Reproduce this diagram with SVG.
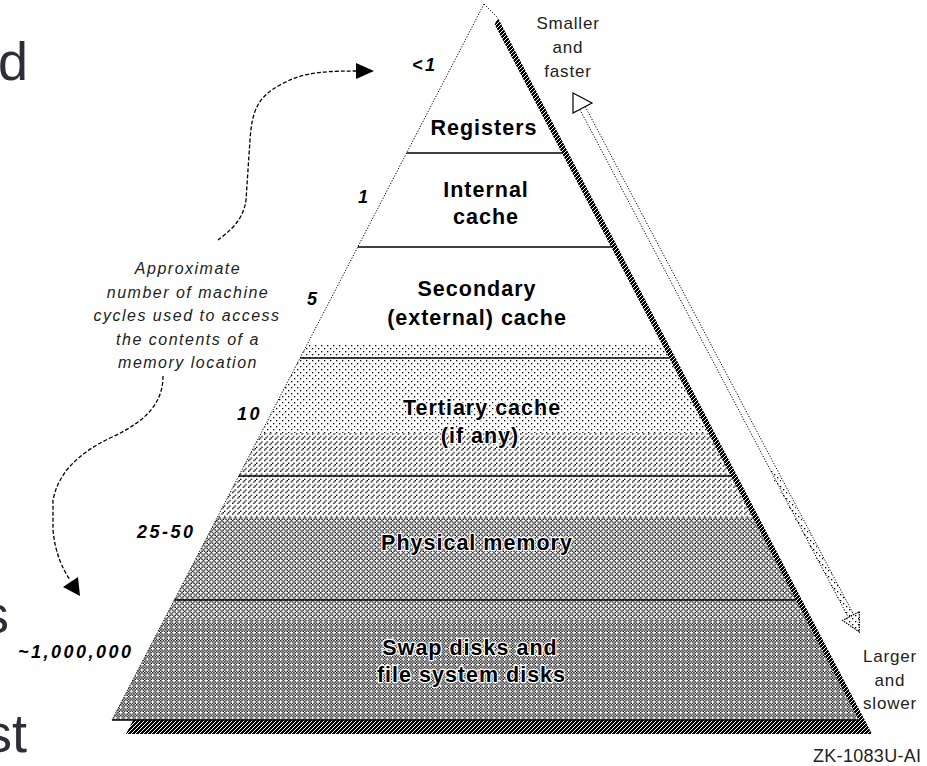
<svg xmlns="http://www.w3.org/2000/svg" width="927" height="766" viewBox="0 0 927 766">
<style>
.lbl{font-family:"Liberation Sans",Arial,sans-serif;font-weight:bold;font-size:21.5px;letter-spacing:1px;fill:#000;text-anchor:middle;stroke:#fff;stroke-width:2.4px;paint-order:stroke;stroke-linejoin:round}
.num{font-family:"Liberation Sans",Arial,sans-serif;font-weight:bold;font-style:italic;font-size:18px;letter-spacing:2.5px;fill:#000}
.note{font-family:"Liberation Sans",Arial,sans-serif;font-style:italic;font-size:16px;letter-spacing:1.5px;fill:#222;text-anchor:middle}
.side{font-family:"Liberation Sans",Arial,sans-serif;font-size:17px;letter-spacing:0.8px;fill:#222;text-anchor:middle}
.big{font-family:"Liberation Sans",Arial,sans-serif;font-size:54px;fill:#2e2e38;text-anchor:end}
.div{stroke:#000;stroke-width:1.5;fill:none}
.dotline{stroke:#000;stroke-width:1;fill:none;stroke-dasharray:1.2,1.6}
.curve{stroke:#000;stroke-width:1.3;fill:none;stroke-dasharray:4,2}
.px{fill:#000}
</style>
<defs>
<pattern id="pDots" width="6" height="6" patternUnits="userSpaceOnUse">
<rect x="0" y="0" width="1.3" height="1.3" fill="#000"/>
<rect x="3" y="3" width="1.3" height="1.3" fill="#000"/>
</pattern>
<pattern id="pDiag" width="4" height="4" patternUnits="userSpaceOnUse" patternTransform="scale(1.3333)">
<rect class="px" x="3" y="0" width="1" height="1"/>
<rect class="px" x="2" y="1" width="1" height="1"/>
<rect class="px" x="0" y="3" width="1" height="1"/>
</pattern>
<pattern id="pCross" width="4" height="4" patternUnits="userSpaceOnUse" patternTransform="scale(1.3333)">
<rect class="px" x="0" y="0" width="1" height="1"/>
<rect class="px" x="1" y="1" width="1" height="1"/>
<rect class="px" x="2" y="2" width="1" height="1"/>
<rect class="px" x="3" y="3" width="1" height="1"/>
<rect class="px" x="3" y="1" width="1" height="1"/>
<rect class="px" x="1" y="3" width="1" height="1"/>
</pattern>
<pattern id="pSwap" width="4" height="4" patternUnits="userSpaceOnUse" patternTransform="scale(1.3333)">
<rect class="px" x="0" y="0" width="1" height="1"/>
<rect class="px" x="2" y="0" width="1" height="1"/>
<rect class="px" x="1" y="1" width="1" height="1"/>
<rect class="px" x="3" y="1" width="1" height="1"/>
<rect class="px" x="0" y="2" width="1" height="1"/>
<rect class="px" x="1" y="3" width="1" height="1"/>
<rect class="px" x="3" y="3" width="1" height="1"/>
</pattern>
<pattern id="pShadow" width="4" height="4" patternUnits="userSpaceOnUse" shape-rendering="crispEdges">
<rect x="0" y="0" width="4" height="4" fill="#000"/>
<rect x="0" y="0" width="1" height="1" fill="#fff"/>
<rect x="2" y="2" width="1" height="1" fill="#fff"/>
<rect x="3" y="1" width="1" height="1" fill="#fff"/>
<rect x="1" y="3" width="1" height="1" fill="#fff"/>
</pattern>
<clipPath id="face">
<polygon points="484,4 112,720 858.5,720"/>
</clipPath>
</defs>
<rect x="0" y="0" width="927" height="766" fill="#fff"/>

<g id="slide-text">
<text class="big" x="28" y="80">d</text>
<text class="big" x="9" y="633">s</text>
<text class="big" x="27" y="752">st</text>
</g>

<g id="pyramid">
<polygon points="498,18 126,734 872,734" fill="url(#pShadow)"/>
<polygon points="484,4 112,720 858.5,720" fill="#fff"/>
<g clip-path="url(#face)">
<rect x="100" y="345" width="780" height="88" fill="url(#pDots)"/>
<rect x="100" y="433" width="780" height="84" fill="url(#pDiag)"/>
<rect x="100" y="517" width="780" height="103" fill="url(#pCross)"/>
<rect x="100" y="620" width="780" height="100" fill="url(#pSwap)"/>
</g>
<line class="dotline" x1="484" y1="4" x2="112" y2="720"/>
<line x1="484" y1="4" x2="498" y2="18" class="dotline"/>
<line class="div" x1="112" y1="720" x2="858" y2="720"/>
</g>

<g id="registers">
<line class="div" x1="406.6" y1="153" x2="562" y2="153"/>
<text class="lbl" x="484" y="135">Registers</text>
<text class="num" x="412" y="71">&lt;1</text>
</g>
<g id="internal-cache">
<line class="div" x1="357.7" y1="247" x2="611" y2="247"/>
<text class="lbl" x="486" y="197">Internal</text>
<text class="lbl" x="486" y="224">cache</text>
<text class="num" x="358" y="203">1</text>
</g>
<g id="secondary-cache">
<line class="div" x1="300.1" y1="358" x2="669" y2="358"/>
<text class="lbl" x="477" y="296">Secondary</text>
<text class="lbl" x="477" y="325">(external) cache</text>
<text class="num" x="307" y="305">5</text>
</g>
<g id="tertiary-cache">
<line class="div" x1="238.8" y1="476" x2="731" y2="476"/>
<text class="lbl" x="482" y="415">Tertiary cache</text>
<text class="lbl" x="480" y="443">(if any)</text>
<text class="num" x="237" y="420">10</text>
</g>
<g id="physical-memory">
<line class="div" x1="174.3" y1="600" x2="796" y2="600"/>
<text class="lbl" x="477" y="550">Physical memory</text>
<text class="num" x="137" y="538">25-50</text>
</g>
<g id="swap-disks">
<text class="lbl" x="470" y="655">Swap disks and</text>
<text class="lbl" x="471.5" y="682">file system disks</text>
<text class="num" x="18" y="658">~1,000,000</text>
</g>

<g id="cycles-note">
<text class="note" x="188" y="274">Approximate</text>
<text class="note" x="188" y="298">number of machine</text>
<text class="note" x="187" y="321">cycles used to access</text>
<text class="note" x="188" y="345">the contents of a</text>
<text class="note" x="188" y="368">memory location</text>
</g>

<g id="size-speed">
<text class="side" x="568" y="29">Smaller</text>
<text class="side" x="568" y="53">and</text>
<text class="side" x="568" y="77">faster</text>
<text class="side" x="890" y="662">Larger</text>
<text class="side" x="890" y="686">and</text>
<text class="side" x="890" y="709">slower</text>
</g>

<g id="figure-id">
<text x="813" y="762" style="font-family:'Liberation Sans',Arial,sans-serif;font-size:18px;letter-spacing:0.3px;fill:#222">ZK-1083U-AI</text>
</g>

<g id="connectors">
<path class="curve" d="M218,240 C228,232 243,222 246,200 L250,140 C252,110 258,97 280,85 C300,74 315,71 357,71"/>
<polygon points="356,63 374,71 356,79" fill="#000"/>
<path class="curve" d="M163,376 C163,400 150,420 110,438 C75,455 58,475 53,500 L53,530 C55,552 62,568 70,580"/>
<polygon points="63,587 78,577 80,596" fill="#000"/>
<polygon points="775.3,470 853.7,614.6 848.3,617.4 768.4,470" fill="url(#pDots)"/>
<line class="dotline" x1="585.2" y1="106.6" x2="853.7" y2="614.6"/>
<line class="dotline" x1="579.8" y1="109.4" x2="848.3" y2="617.4"/>
<polygon points="573,93 592,103 573,113" fill="#fff" stroke="#000" stroke-width="1.2"/>
<polygon points="859.4,611.6 859.3,632 842.6,620.4" fill="url(#pDots)" stroke="#000" stroke-width="1.2" stroke-dasharray="1.5,1"/>
</g>
</svg>
